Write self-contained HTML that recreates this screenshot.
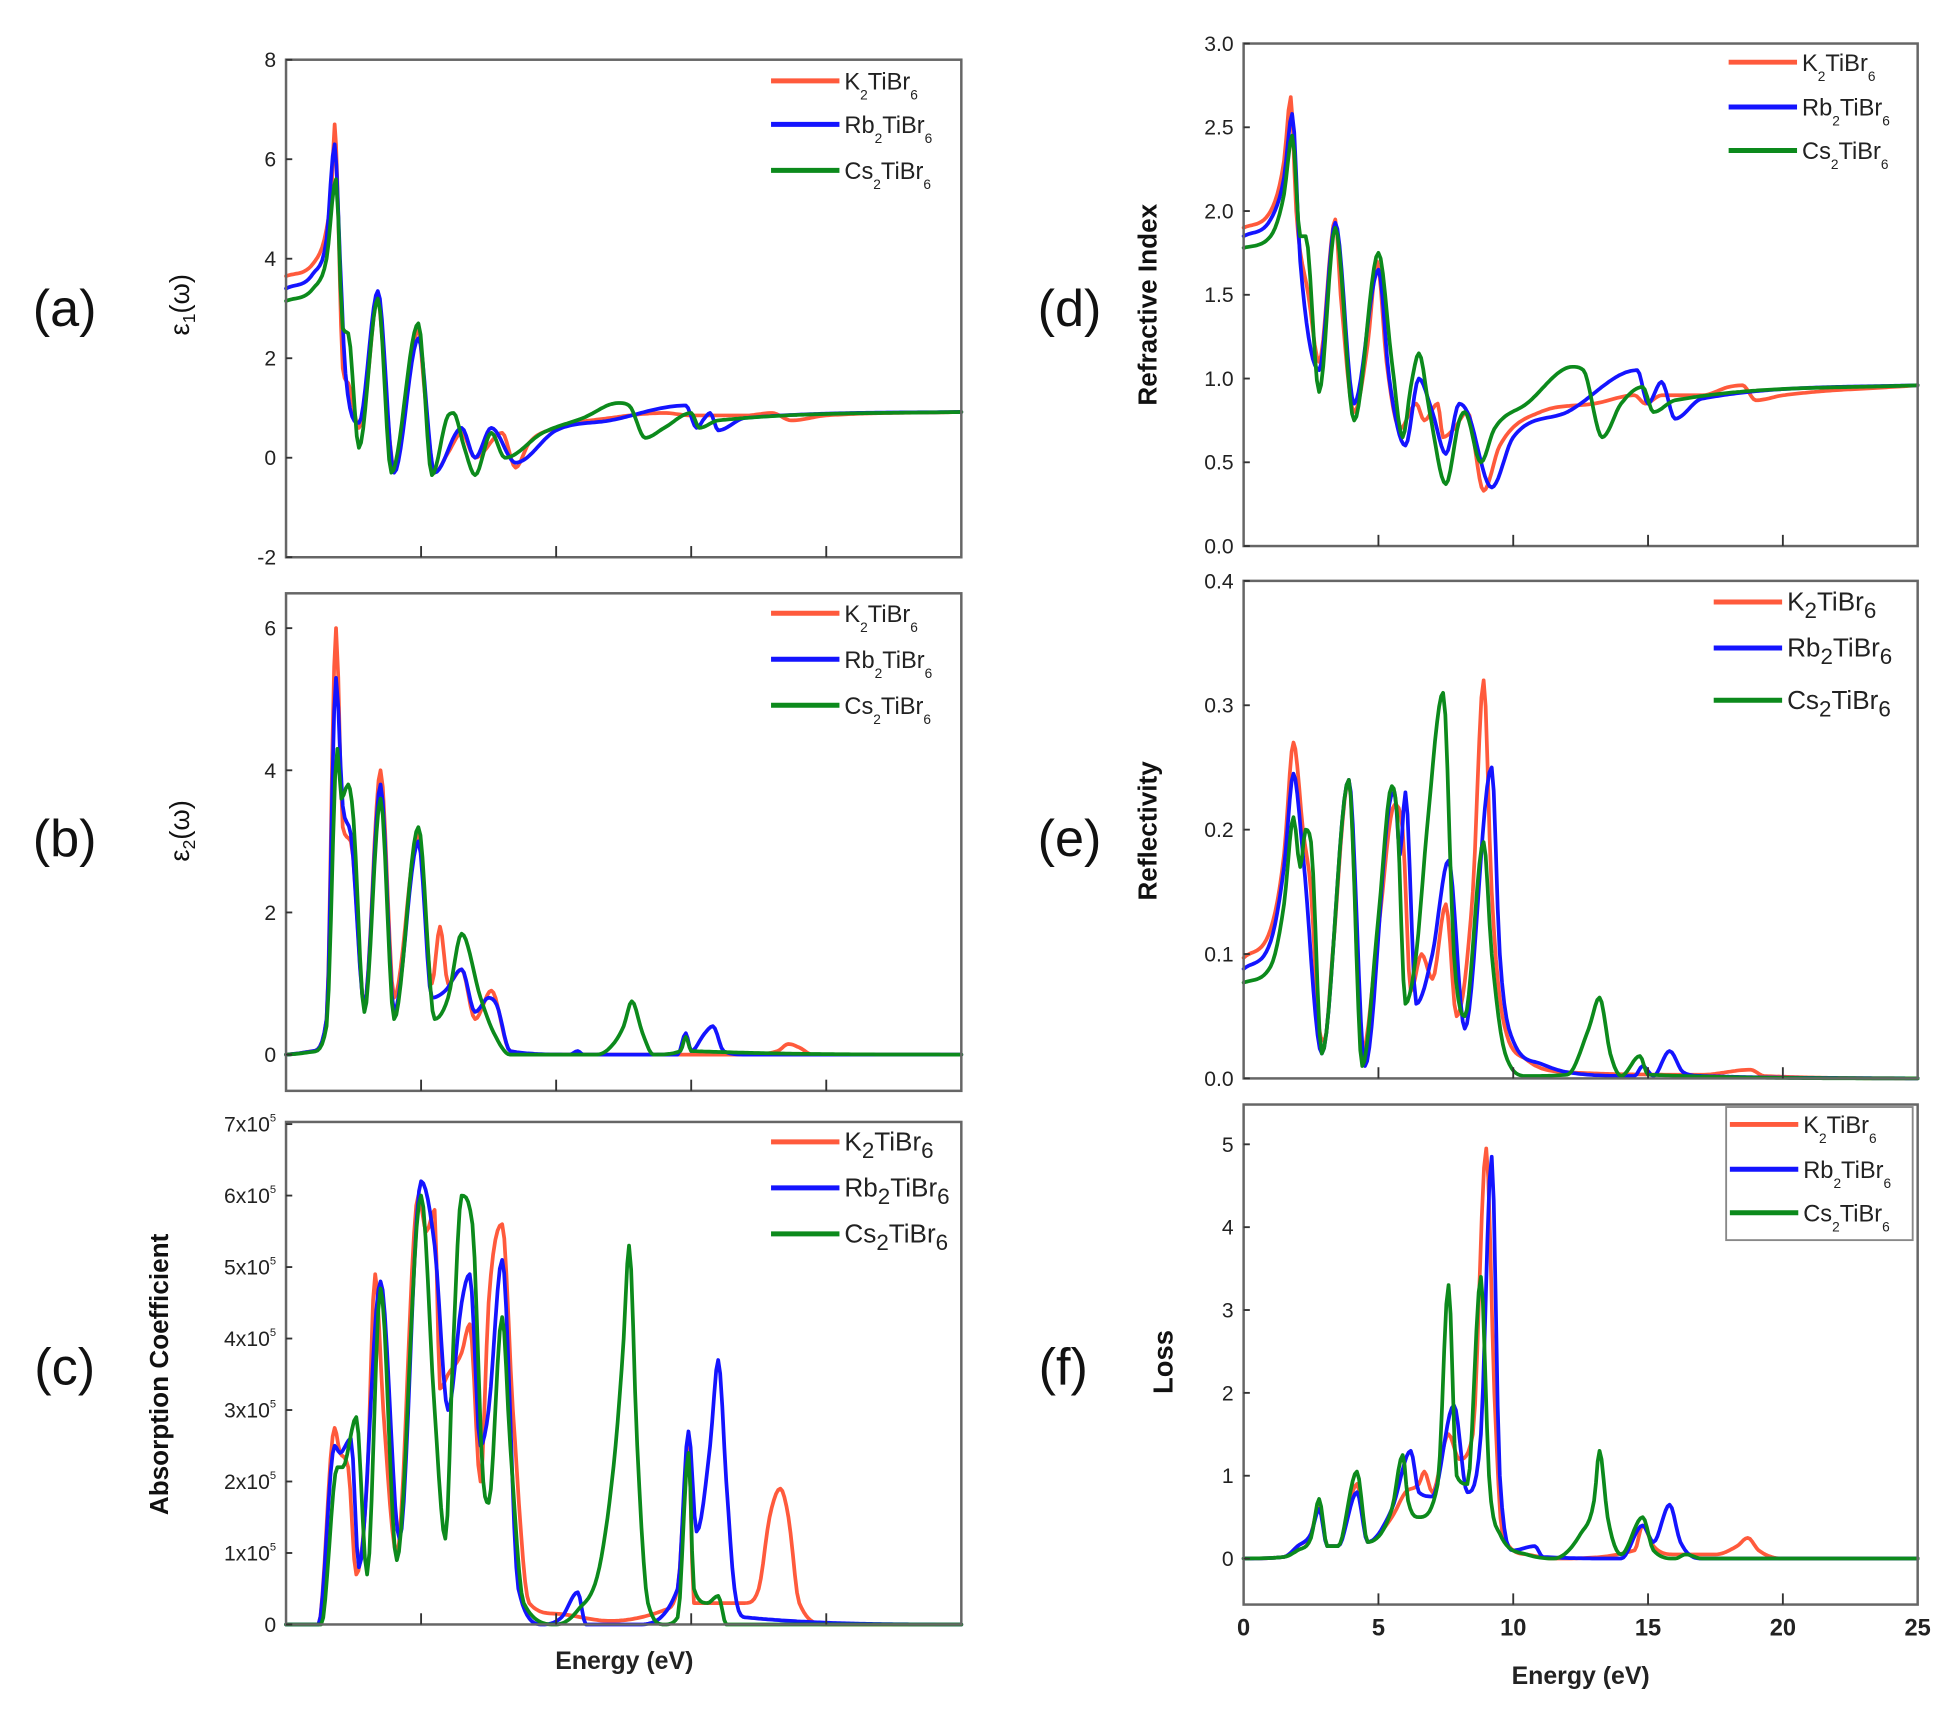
<!DOCTYPE html>
<html><head><meta charset="utf-8"><style>
html,body{margin:0;padding:0;background:#fff;}
svg{display:block;}
text{font-family:"Liberation Sans",Arial,sans-serif;}
</style></head><body>
<svg id="s" width="1950" height="1719" viewBox="0 0 1568 1382" preserveAspectRatio="none" xmlns="http://www.w3.org/2000/svg"></svg>
<script>
const S=document.getElementById('s');
let out='';
const R='#ff5a3c',B='#1414ff',G='#0c8a1c';
function mono(xs,ys){
  const n=xs.length,d=[],m=new Array(n);
  for(let i=0;i<n-1;i++)d.push((ys[i+1]-ys[i])/(xs[i+1]-xs[i]));
  m[0]=d[0];m[n-1]=d[n-2];
  for(let i=1;i<n-1;i++){m[i]=(d[i-1]*d[i]<=0)?0:(d[i-1]+d[i])/2;}
  for(let i=0;i<n-1;i++){if(d[i]===0){m[i]=0;m[i+1]=0;continue;}
    const a=m[i]/d[i],b=m[i+1]/d[i],s=a*a+b*b;if(s>9){const t=3/Math.sqrt(s);m[i]=t*a*d[i];m[i+1]=t*b*d[i];}}
  const px=[],py=[];
  for(let i=0;i<n-1;i++){const h=xs[i+1]-xs[i];const N=Math.max(2,Math.ceil(h*12));
    for(let k=0;k<N;k++){const t=k/N,t2=t*t,t3=t2*t;
      const y=(2*t3-3*t2+1)*ys[i]+(t3-2*t2+t)*h*m[i]+(-2*t3+3*t2)*ys[i+1]+(t3-t2)*h*m[i+1];
      px.push(xs[i]+t*h);py.push(y);}}
  px.push(xs[n-1]);py.push(ys[n-1]);return [px,py];
}
function panel(p){
  const {x0,x1,y0,y1,vmin,vmax}=p;
  const X=e=>x0+(e/25)*(x1-x0);
  const Y=v=>y1-(v-vmin)/(vmax-vmin)*(y1-y0);
  out+=`<g>`;
  [[p.k,R],[p.b,B],[p.g,G]].forEach(([d,c])=>{
    const xs=[],ys=[];for(let i=0;i<d.length;i+=2){xs.push(d[i]);ys.push(d[i+1]);}
    const [px,py]=mono(xs,ys);
    let pts=[];for(let i=0;i<px.length;i++)pts.push(X(px[i]).toFixed(1)+','+Y(py[i]).toFixed(1));
    out+=`<polyline points="${pts.join(' ')}" fill="none" stroke="${c}" stroke-width="3" stroke-linejoin="round" stroke-linecap="round"/>`;
  });
  out+=`<rect x="${x0}" y="${y0}" width="${x1-x0}" height="${y1-y0}" fill="none" stroke="#666" stroke-width="2"/>`;
  for(let e=5;e<25;e+=5){out+=`<line x1="${X(e)}" y1="${y1}" x2="${X(e)}" y2="${y1-9}" stroke="#333" stroke-width="1.5"/>`;}
  p.yt.forEach(([v,l])=>{const y=Y(v);out+=`<line x1="${x0}" y1="${y}" x2="${x0+5}" y2="${y}" stroke="#333" stroke-width="1.5"/>`;
    out+=`<text x="${x0-8}" y="${y+6}" font-size="17" text-anchor="end" fill="#222">${l}</text>`;});
  if(p.xl){for(let e=0;e<=25;e+=5){out+=`<text x="${X(e)}" y="${y1+25}" font-size="19" font-weight="bold" text-anchor="middle" fill="#222">${e}</text>`;}}
  const L=p.leg, names=[['K','TiBr'],['Rb','TiBr'],['Cs','TiBr']];
  if(L.box)out+=`<rect x="${L.box[0]}" y="${L.box[1]}" width="${L.box[2]}" height="${L.box[3]}" fill="#fff" stroke="#888" stroke-width="1.5"/>`;
  [R,B,G].forEach((c,i)=>{const y=L.y[i];
    out+=`<line x1="${L.x}" y1="${y}" x2="${L.x+55}" y2="${y}" stroke="${c}" stroke-width="4"/>`;
    const fs=L.fs||19, ss=L.ss||11, dy=L.dy||8;
    out+=`<text x="${L.x+59}" y="${y+7}" font-size="${fs}" fill="#222">${names[i][0]}<tspan font-size="${ss}" dy="${dy}">2</tspan><tspan dy="-${dy}">${names[i][1]}</tspan><tspan font-size="${ss}" dy="${dy}">6</tspan></text>`;
  });
  out+=`</g>`;
}
const xa=230,xb=773,xc=1000,xd=1542;
panel({x0:xa,x1:xb,y0:48,y1:448,vmin:-2,vmax:8,yt:[[-2,'-2'],[0,'0'],[2,'2'],[4,'4'],[6,'6'],[8,'8']],
 leg:{x:620,y:[65,100,137]},
 k:[0,3.65,1,3.9,1.5,4.6,1.7,5.5,1.8,6.7,1.9,5.5,2.1,1.8,2.3,1.5,2.7,0.6,3.0,1.5,3.4,3.3,3.5,2.8,4.0,-0.2,4.5,1.5,4.9,2.6,5.1,1.5,5.5,-0.3,6.0,0.1,6.5,0.5,7.0,0.0,8.0,0.5,8.5,-0.2,9,0.3,10,0.6,12,0.8,14,0.9,15,0.85,17,0.85,18,0.9,18.7,0.75,20,0.85,25,0.92],
 b:[0,3.4,1,3.7,1.5,4.4,1.8,6.3,2.0,4.0,2.2,1.7,2.7,0.7,3.4,3.35,4,-0.3,4.9,2.4,5.5,-0.3,6.5,0.6,7,0,7.6,0.6,8.5,-0.1,10,0.55,12,0.75,14.8,1.05,15.2,0.6,15.5,0.8,15.7,0.9,16,0.55,17,0.8,25,0.92],
 g:[0,3.15,1,3.4,1.5,4.0,1.85,5.6,2.1,2.6,2.3,2.5,2.7,0.2,3.4,3.2,3.9,-0.3,4.9,2.7,5.4,-0.35,6.0,0.85,6.2,0.9,6.6,0.2,7.0,-0.35,7.6,0.5,8.1,0,9.5,0.5,11,0.8,12.3,1.1,12.7,1.05,13.3,0.4,14,0.6,15,0.9,15.3,0.6,16,0.75,25,0.92]});
panel({x0:xa,x1:xb,y0:477,y1:877,vmin:-0.51,vmax:6.49,yt:[[0,'0'],[2,'2'],[4,'4'],[6,'6']],
 leg:{x:620,y:[493,530,567]},
 k:[0,0,1,0.05,1.5,0.5,1.85,6.0,2.1,3.2,2.4,3.0,2.9,0.7,3.5,4.0,4.0,0.8,4.9,3.1,5.4,1.0,5.7,1.8,6.0,1.0,6.5,1.2,7.0,0.5,7.6,0.9,8.3,0.05,10,0,17,0,18.2,0.05,18.6,0.15,19,0.1,19.5,0,25,0],
 b:[0,0,1,0.05,1.5,0.5,1.85,5.3,2.1,3.5,2.4,3.1,2.9,0.7,3.5,3.8,4.0,0.6,4.9,3.0,5.4,0.8,5.9,0.9,6.5,1.2,7.0,0.6,7.5,0.8,7.8,0.7,8.3,0.05,10.5,0,10.8,0.05,11,0,14.5,0,14.8,0.3,15,0.05,15.5,0.3,15.8,0.4,16.2,0.05,17,0,25,0],
 g:[0,0,1,0.04,1.5,0.4,1.9,4.3,2.05,3.6,2.3,3.8,2.5,3.3,2.9,0.6,3.5,3.6,4.0,0.5,4.9,3.2,5.5,0.5,6.0,0.8,6.5,1.7,7.2,0.8,7.7,0.3,8.3,0,11.5,0,12,0.1,12.5,0.4,12.8,0.75,13.2,0.3,13.6,0,14.6,0.05,14.8,0.25,15.0,0.05,25,0]});
panel({x0:xa,x1:xb,y0:902,y1:1306,vmin:0,vmax:7.03,yt:[[0,'0'],[1,'1x10<tspan font-size="9" dy="-8">5</tspan>'],[2,'2x10<tspan font-size="9" dy="-8">5</tspan>'],[3,'3x10<tspan font-size="9" dy="-8">5</tspan>'],[4,'4x10<tspan font-size="9" dy="-8">5</tspan>'],[5,'5x10<tspan font-size="9" dy="-8">5</tspan>'],[6,'6x10<tspan font-size="9" dy="-8">5</tspan>'],[7,'7x10<tspan font-size="9" dy="-8">5</tspan>']],
 leg:{x:620,y:[918,955,992],fs:21,ss:18,dy:6},
 k:[0,0,1.2,0,1.8,2.75,2.0,2.4,2.3,2.2,2.6,0.7,3.0,2.0,3.3,4.9,3.6,3.0,4.1,1.0,4.9,6.0,5.2,5.5,5.5,5.8,5.7,3.3,6.0,3.5,6.5,3.8,6.8,4.2,7.2,2.0,7.5,4.5,8.0,5.6,8.4,3.0,9.0,0.3,10,0.15,12,0.05,14,0.2,14.5,0.5,14.9,2.5,15.1,0.3,16,0.3,17,0.3,17.5,0.5,17.9,1.5,18.3,1.9,18.6,1.5,19,0.3,20,0,25,0],
 b:[0,0,1.2,0,1.8,2.5,2.0,2.4,2.4,2.6,2.7,0.8,3.5,4.8,4.2,1.2,5.0,6.2,5.5,5.3,6.0,3.0,6.5,4.5,6.8,4.9,7.2,2.5,7.5,3.0,8.0,5.1,8.6,0.5,9.5,0,10.2,0.1,10.8,0.45,11.1,0,13,0,14.5,0.5,14.9,2.7,15.2,1.3,15.7,2.5,16.0,3.7,16.3,2.0,16.6,0.5,17,0.1,25,0],
 g:[0,0,1.3,0,1.9,2.2,2.1,2.2,2.6,2.9,3.0,0.7,3.5,4.7,4.1,0.9,5.0,6.0,5.5,3.0,5.9,1.2,6.2,4.0,6.5,6.0,6.9,5.6,7.3,2.0,7.5,1.7,8.0,4.3,8.3,2.5,8.8,0.3,10,0,10.8,0.2,11.6,0.8,12.2,2.5,12.5,4.0,12.7,5.3,13.0,2.5,13.4,0.3,14,0,14.5,0.1,14.9,2.4,15.1,0.5,15.6,0.3,16,0.4,16.3,0,25,0]});
panel({x0:xc,x1:xd,y0:35,y1:439,vmin:0,vmax:3,yt:[[0,'0.0'],[0.5,'0.5'],[1,'1.0'],[1.5,'1.5'],[2,'2.0'],[2.5,'2.5'],[3,'3.0']],
 leg:{x:1390,y:[50,86,121]},
 k:[0,1.9,1,2.0,1.5,2.3,1.75,2.68,1.95,2.0,2.4,1.5,2.8,1.1,3.4,1.95,3.6,1.5,4.1,0.8,4.6,1.2,4.95,1.7,5.3,1.1,5.8,0.7,6.4,0.85,6.7,0.75,7.2,0.85,7.4,0.65,7.8,0.7,8.3,0.8,8.9,0.33,9.5,0.6,11,0.8,13,0.85,14.5,0.9,14.9,0.85,15.5,0.9,17,0.9,18,0.95,18.5,0.96,19,0.87,20,0.9,25,0.96],
 b:[0,1.85,1,1.95,1.5,2.2,1.8,2.58,2.1,1.7,2.8,1.05,3.4,1.93,4.1,0.85,5.0,1.65,5.4,1.0,6.0,0.6,6.5,1.0,7.0,0.8,7.5,0.55,8.0,0.85,8.3,0.8,9.2,0.35,10,0.65,12,0.8,14.6,1.05,15,0.85,15.5,0.98,16,0.76,17,0.88,25,0.96],
 g:[0,1.78,1,1.85,1.5,2.1,1.8,2.45,2.1,1.85,2.3,1.85,2.8,0.92,3.4,1.9,4.1,0.75,5.0,1.75,5.5,1.1,5.9,0.65,6.2,0.95,6.5,1.15,6.9,0.8,7.5,0.37,8.0,0.75,8.2,0.8,8.8,0.5,9.3,0.7,10.5,0.85,12.2,1.07,12.6,1.05,13.3,0.65,14,0.85,14.8,0.95,15.2,0.8,16,0.87,25,0.96]});
panel({x0:xc,x1:xd,y0:467,y1:867,vmin:0,vmax:0.4,yt:[[0,'0.0'],[0.1,'0.1'],[0.2,'0.2'],[0.3,'0.3'],[0.4,'0.4']],
 leg:{x:1378,y:[484,521,563],fs:21,ss:18,dy:6},
 k:[0,0.097,1,0.12,1.5,0.18,1.85,0.27,2.2,0.2,2.5,0.15,2.8,0.04,3.0,0.03,3.3,0.1,3.9,0.24,4.4,0.02,5.0,0.12,5.6,0.22,5.9,0.2,6.2,0.07,6.6,0.1,7.0,0.08,7.5,0.14,7.9,0.05,8.5,0.15,8.9,0.32,9.2,0.15,9.6,0.05,10.5,0.015,12,0.005,17,0.003,18.8,0.007,19.3,0.002,25,0],
 b:[0,0.088,1,0.11,1.5,0.17,1.85,0.245,2.2,0.18,2.9,0.02,3.9,0.24,4.5,0.01,5.4,0.22,5.6,0.23,5.8,0.18,6.0,0.23,6.4,0.06,7.0,0.1,7.6,0.175,8.2,0.04,9.2,0.25,9.5,0.1,10,0.03,11,0.012,12,0.005,14.5,0.002,14.8,0.01,15.2,0.002,15.8,0.022,16.3,0.005,17,0.002,25,0],
 g:[0,0.077,1,0.09,1.5,0.14,1.85,0.21,2.1,0.17,2.3,0.2,2.5,0.19,2.9,0.02,3.9,0.24,4.4,0.01,5.0,0.13,5.5,0.235,5.7,0.21,6.0,0.06,6.4,0.1,6.8,0.2,7.4,0.31,7.8,0.1,8.2,0.05,8.9,0.19,9.2,0.1,9.7,0.02,10.5,0.002,12,0.003,12.8,0.04,13.2,0.065,13.6,0.02,14,0.002,14.7,0.018,15.0,0.003,25,0]});
panel({x0:xc,x1:xd,y0:888,y1:1290,vmin:-0.555,vmax:5.48,xl:true,yt:[[0,'0'],[1,'1'],[2,'2'],[3,'3'],[4,'4'],[5,'5']],
 leg:{x:1391,y:[904,940,975],box:[1388,890,150,107]},
 k:[0,0,1.5,0.02,2,0.15,2.5,0.3,2.8,0.65,3.1,0.15,3.5,0.15,4.2,0.9,4.6,0.2,5.5,0.5,6.0,0.8,6.5,0.9,6.7,1.05,7.0,0.8,7.6,1.5,8.0,1.2,8.5,1.5,9.0,4.95,9.3,2.0,9.6,0.3,10.5,0.05,11.5,0,14.5,0.1,14.8,0.4,15.2,0.15,16,0.05,17.5,0.05,18.3,0.15,18.7,0.25,19.1,0.1,20,0,25,0],
 b:[0,0,1.5,0.02,2,0.15,2.5,0.3,2.8,0.6,3.1,0.15,3.5,0.15,4.2,0.8,4.6,0.2,5.5,0.6,6.2,1.3,6.5,0.8,7.0,0.75,7.8,1.85,8.3,0.8,8.8,1.5,9.2,4.85,9.5,1.0,10,0.1,10.8,0.15,11.1,0.02,14,0,14.8,0.4,15.2,0.2,15.8,0.65,16.2,0.2,17,0,25,0],
 g:[0,0,1.5,0.02,2,0.1,2.5,0.25,2.8,0.72,3.1,0.15,3.5,0.15,4.2,1.05,4.6,0.2,5.5,0.6,5.9,1.25,6.1,0.7,6.5,0.5,7.2,0.9,7.6,3.3,7.9,1.0,8.3,0.9,8.8,3.4,9.1,1.0,9.5,0.3,10.5,0.05,11.5,0,12.5,0.3,13.0,0.7,13.2,1.3,13.5,0.5,14,0.05,14.8,0.5,15.2,0.1,16,0,16.4,0.05,17,0,25,0]});
[['(a)',52,262],['(b)',52,688],['(c)',52,1113],['(d)',860,262],['(e)',860,688],['(f)',855,1113]].forEach(([t,x,y])=>{
 out+=`<text x="${x}" y="${y}" font-size="42" text-anchor="middle" fill="#111">${t}</text>`;});
function vt(t,x,y,fs){out+=`<text transform="translate(${x},${y}) rotate(-90)" font-size="${fs}" font-weight="bold" text-anchor="middle" fill="#111">${t}</text>`;}
out+=`<text transform="translate(152,245) rotate(-90)" font-size="22" text-anchor="middle" fill="#111">ε<tspan font-size="14" dy="5">1</tspan><tspan dy="-5">(ω)</tspan></text>`;
out+=`<text transform="translate(152,668) rotate(-90)" font-size="22" text-anchor="middle" fill="#111">ε<tspan font-size="14" dy="5">2</tspan><tspan dy="-5">(ω)</tspan></text>`;
vt('Absorption Coefficient',135,1105,21);
vt('Refractive Index',930,245,21);
vt('Reflectivity',930,668,21);
vt('Loss',943,1095,22);
out+=`<text x="502" y="1342" font-size="20" font-weight="bold" text-anchor="middle" fill="#222">Energy (eV)</text>`;
out+=`<text x="1271" y="1354" font-size="20" font-weight="bold" text-anchor="middle" fill="#222">Energy (eV)</text>`;
S.innerHTML=out;
</script>
</body></html>
